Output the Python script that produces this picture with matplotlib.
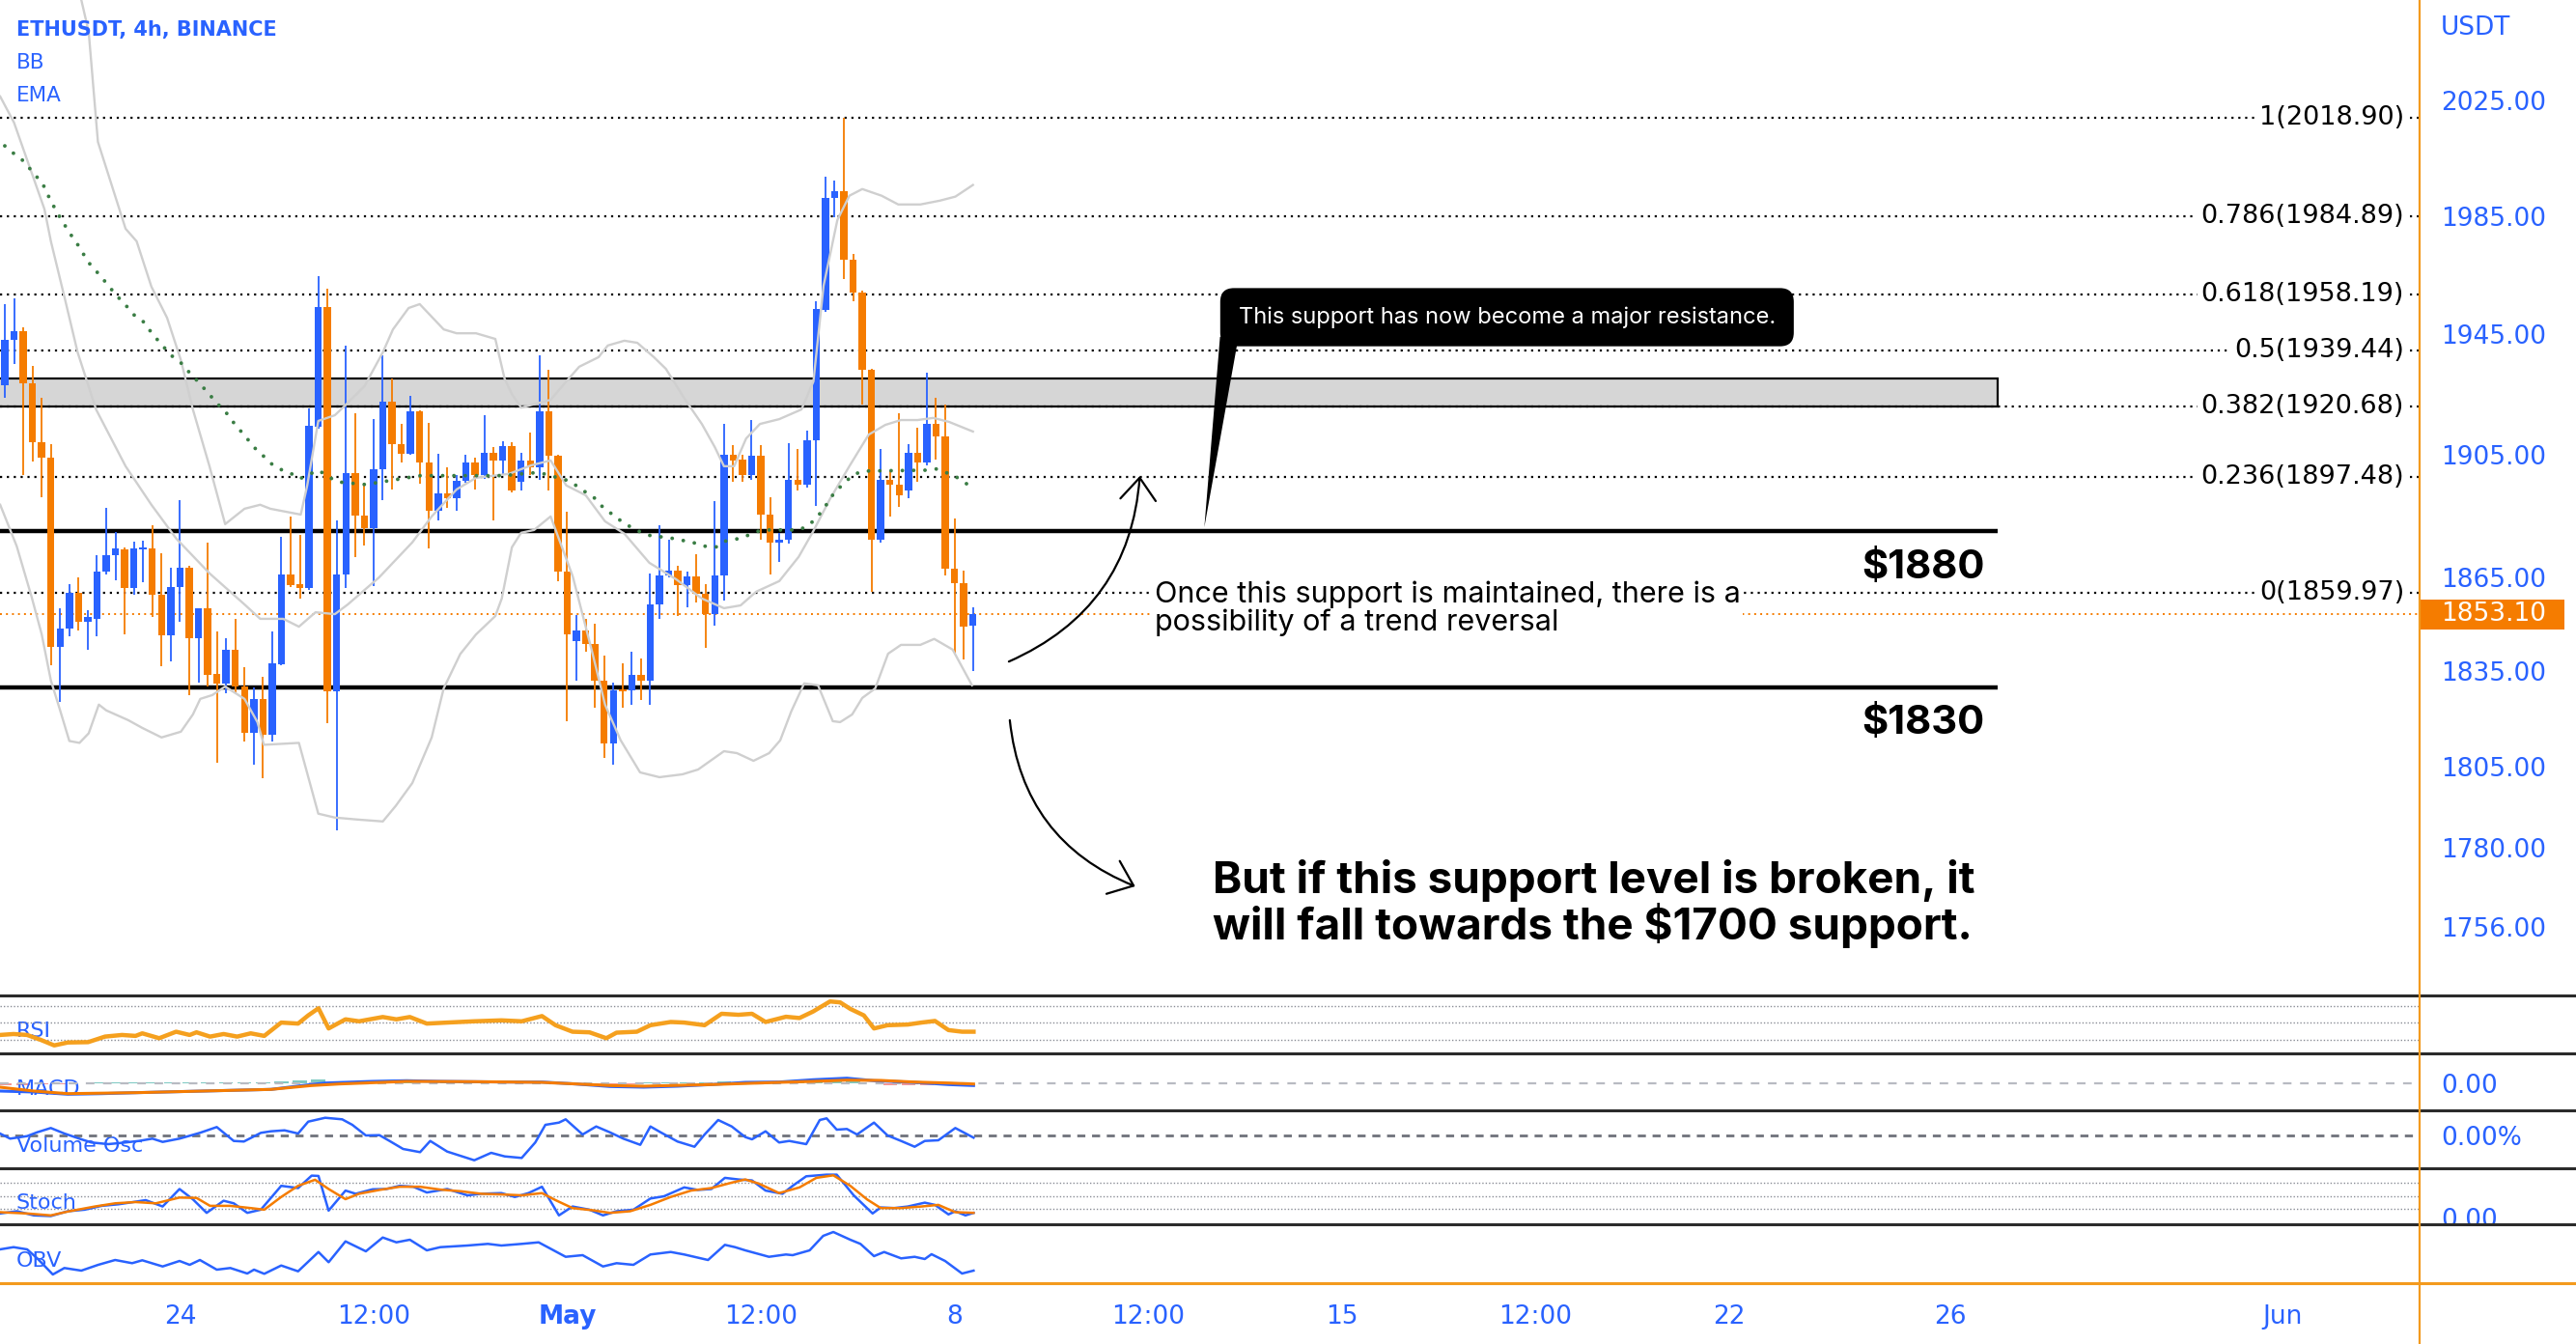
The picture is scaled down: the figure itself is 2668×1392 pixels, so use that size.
import numpy as np
import matplotlib
matplotlib.use("Agg")
import matplotlib.pyplot as plt
import matplotlib.transforms as mtrans
from matplotlib.patches import Rectangle, Polygon, FancyArrowPatch
from matplotlib.lines import Line2D
from matplotlib.ticker import FixedLocator, NullLocator, FixedFormatter

plt.rcParams['font.family'] = ['DejaVu Sans']

# ---------------- data ----------------
opens = [1927.7, 1943.0, 1945.8, 1928.5, 1908.9, 1903.8, 1842.8, 1848.5, 1859.9, 1850.7,
         1851.8, 1866.8, 1872.1, 1874.0, 1861.7, 1874.0, 1874.3, 1859.3, 1846.5, 1862.0,
         1868.1, 1845.5, 1855.0, 1834.3, 1831.0, 1841.9, 1830.3, 1815.7, 1826.2, 1814.9,
         1837.3, 1865.9, 1862.9, 1861.7, 1914.1, 1954.1, 1828.6, 1865.9, 1898.8, 1885.1,
         1880.8, 1900.0, 1922.4, 1908.5, 1905.3, 1919.1, 1902.2, 1886.7, 1892.2, 1890.7,
         1896.2, 1902.4, 1898.2, 1905.5, 1902.8, 1907.7, 1896.1, 1902.9, 1900.7, 1919.1,
         1904.4, 1867.0, 1844.7, 1847.9, 1843.6, 1832.0, 1812.3, 1829.3, 1829.0, 1833.8,
         1832.0, 1856.4, 1865.6, 1867.3, 1862.6, 1865.3, 1859.6, 1853.2, 1865.6, 1904.7,
         1903.3, 1898.3, 1904.4, 1885.4, 1876.2, 1877.0, 1896.7, 1894.9, 1909.7, 1953.1,
         1991.0, 1993.4, 1970.1, 1958.9, 1932.9, 1877.0, 1896.6, 1895.0, 1893.0, 1905.5,
         1902.3, 1914.9, 1911.0, 1867.9, 1863.1, 1849.5]
highs = [1955.0, 1957.1, 1947.3, 1934.3, 1923.6, 1908.5, 1855.0, 1862.9, 1865.0, 1854.6,
         1872.2, 1887.5, 1879.5, 1874.6, 1876.4, 1876.8, 1881.7, 1872.7, 1868.0, 1890.0,
         1868.6, 1855.2, 1876.2, 1847.6, 1845.5, 1851.6, 1836.3, 1829.8, 1833.4, 1847.6,
         1878.0, 1884.6, 1878.8, 1920.2, 1964.6, 1960.1, 1883.4, 1941.2, 1918.5, 1895.8,
         1916.7, 1937.9, 1930.1, 1915.0, 1924.2, 1919.6, 1915.4, 1905.1, 1900.7, 1898.2,
         1904.7, 1903.8, 1917.9, 1907.3, 1909.2, 1909.0, 1905.5, 1912.1, 1937.7, 1932.9,
         1905.0, 1886.2, 1852.8, 1851.7, 1850.2, 1840.1, 1831.5, 1837.6, 1841.1, 1839.0,
         1866.3, 1881.7, 1877.0, 1868.6, 1867.0, 1872.5, 1862.9, 1889.6, 1914.9, 1907.9,
         1904.7, 1916.4, 1907.9, 1891.0, 1879.4, 1908.7, 1906.8, 1912.8, 1955.9, 1998.3,
         1997.0, 2018.9, 1972.1, 1959.5, 1933.4, 1906.8, 1899.4, 1918.5, 1908.4, 1913.9,
         1931.9, 1923.6, 1921.3, 1883.9, 1867.2, 1855.5]
lows = [1923.6, 1934.8, 1898.2, 1902.6, 1891.0, 1837.0, 1825.3, 1846.1, 1848.1, 1841.9,
        1846.1, 1866.0, 1864.2, 1846.7, 1859.5, 1863.4, 1852.2, 1836.6, 1838.2, 1850.7,
        1827.4, 1831.3, 1830.3, 1806.4, 1828.2, 1828.2, 1812.8, 1805.8, 1801.6, 1813.0,
        1836.8, 1862.0, 1858.3, 1861.0, 1913.5, 1818.7, 1785.4, 1861.6, 1871.4, 1875.2,
        1862.2, 1890.1, 1893.5, 1902.2, 1904.7, 1895.4, 1874.3, 1883.4, 1887.4, 1886.7,
        1895.8, 1893.5, 1897.1, 1883.4, 1898.2, 1892.5, 1893.0, 1898.1, 1896.6, 1893.0,
        1863.6, 1819.4, 1832.1, 1841.1, 1823.4, 1807.9, 1805.6, 1823.4, 1824.5, 1825.9,
        1824.5, 1851.7, 1865.0, 1852.5, 1855.3, 1857.0, 1842.6, 1849.5, 1857.6, 1896.1,
        1896.1, 1896.7, 1877.0, 1866.0, 1870.1, 1875.9, 1893.0, 1894.0, 1888.2, 1952.5,
        1984.6, 1963.4, 1955.9, 1921.3, 1860.4, 1876.2, 1884.6, 1887.8, 1890.5, 1896.1,
        1901.5, 1903.3, 1865.6, 1840.6, 1838.7, 1835.2]
closes = [1943.0, 1945.8, 1928.5, 1908.9, 1903.8, 1842.8, 1848.5, 1859.9, 1850.7, 1852.2,
          1866.9, 1872.2, 1874.2, 1861.7, 1874.3, 1874.6, 1859.3, 1846.5, 1862.0, 1868.1,
          1845.5, 1855.0, 1834.0, 1831.0, 1841.9, 1830.3, 1815.7, 1826.2, 1814.9, 1837.6,
          1865.9, 1862.6, 1861.7, 1914.5, 1954.1, 1828.6, 1865.9, 1898.8, 1885.1, 1880.8,
          1900.0, 1922.4, 1908.5, 1905.3, 1919.1, 1902.2, 1886.7, 1892.2, 1890.7, 1896.2,
          1902.4, 1898.2, 1905.5, 1902.8, 1907.8, 1893.3, 1902.9, 1900.7, 1919.1, 1904.4,
          1867.0, 1846.8, 1847.9, 1843.6, 1832.0, 1812.3, 1829.0, 1828.6, 1833.8, 1832.0,
          1856.4, 1865.6, 1867.3, 1862.6, 1865.3, 1859.6, 1853.2, 1865.6, 1904.7, 1903.0,
          1898.3, 1904.4, 1885.4, 1876.2, 1877.0, 1896.7, 1894.9, 1909.7, 1953.4, 1991.0,
          1993.4, 1970.1, 1958.9, 1932.9, 1877.0, 1896.6, 1895.0, 1891.5, 1905.5, 1902.3,
          1914.9, 1911.0, 1867.9, 1863.1, 1849.1, 1853.1]

# Bollinger bands (bar index, price)
bb_up_x = [7.3, 8.3, 9.1, 10.1, 13.1, 14.3, 15.9, 17.6, 19.1, 20.4, 22.2, 23.9, 26.0, 27.7, 28.8,
           32.1, 32.8, 34.0, 35.8, 36.9, 39.0, 41.0, 42.1, 43.8, 45.0, 47.6, 49.0, 51.1, 53.2, 54.2,
           55.0, 56.0, 59.2, 60.9, 62.3, 64.4, 65.4, 67.2, 68.6, 70.4, 71.7, 73.8, 75.6, 77.0, 78.0,
           79.1, 80.4, 81.9, 84.0, 86.4, 87.7, 88.8, 90.3, 91.6, 93.0, 95.1, 96.9, 99.3, 101.4, 103.1, 105.0]
bb_up = [2074.1, 2060.3, 2049.0, 2010.5, 1980.6, 1976.3, 1960.9, 1950.4, 1936.2, 1919.8, 1901.1, 1882.2,
         1887.2, 1888.5, 1887.2, 1885.3, 1894.8, 1916.0, 1917.9, 1921.1, 1927.5, 1938.8, 1946.5, 1953.7,
         1955.0, 1946.5, 1945.2, 1945.2, 1943.3, 1930.1, 1924.9, 1920.4, 1923.0, 1929.1, 1934.0, 1937.2,
         1941.1, 1942.7, 1942.0, 1937.2, 1933.3, 1923.0, 1915.0, 1907.4, 1901.1, 1901.1, 1910.2, 1915.0,
         1916.6, 1919.8, 1929.1, 1961.2, 1983.6, 1991.9, 1994.2, 1991.9, 1988.9, 1988.9, 1990.2, 1991.6, 1995.6]
bb_mid_x = [-0.5, 1.0, 4.3, 5.0, 6.5, 7.9, 9.9, 13.1, 15.9, 18.6, 22.2, 26.0, 27.7, 30.2, 31.9, 33.7,
            35.8, 37.2, 40.6, 44.2, 46.3, 49.0, 51.1, 54.7, 57.1, 59.2, 60.9, 63.0, 65.1, 67.2, 69.9,
            72.8, 75.6, 78.0, 79.8, 81.5, 84.0, 86.1, 87.7, 89.5, 91.6, 93.7, 95.5, 97.2, 99.0, 100.7, 102.4, 105.0]
bb_mid = [2026.3, 2017.2, 1987.3, 1976.3, 1957.0, 1938.8, 1919.8, 1901.1, 1888.5, 1877.5, 1866.3, 1856.3,
          1851.7, 1851.7, 1849.2, 1853.8, 1853.2, 1856.3, 1865.0, 1876.3, 1884.7, 1893.5, 1897.3, 1898.6,
          1901.4, 1903.0, 1894.8, 1891.6, 1883.1, 1879.1, 1869.7, 1864.4, 1858.2, 1855.1, 1856.0, 1860.4,
          1863.8, 1871.6, 1880.0, 1890.4, 1901.1, 1911.5, 1914.7, 1916.3, 1916.3, 1917.0, 1915.7, 1912.5]
bb_lo_x = [-0.5, 1.3, 2.9, 4.0, 5.0, 6.0, 7.0, 8.1, 9.1, 10.2, 11.0, 13.4, 14.9, 17.0, 19.1, 20.4, 21.2,
           22.5, 23.9, 26.0, 27.4, 28.1, 31.9, 34.0, 35.8, 38.2, 41.0, 42.4, 44.2, 46.3, 47.6, 49.4, 51.1,
           53.2, 53.9, 55.0, 56.0, 57.4, 59.2, 61.6, 63.7, 65.1, 66.8, 68.9, 71.0, 73.5, 75.2, 78.0, 79.4,
           81.2, 82.9, 84.1, 85.3, 86.7, 88.2, 89.8, 90.6, 91.9, 93.0, 94.4, 95.8, 97.2, 99.3, 100.8, 102.8, 104.9]
bb_lo = [1888.5, 1875.0, 1858.8, 1846.8, 1832.1, 1822.7, 1813.1, 1812.5, 1815.5, 1824.5, 1822.7, 1819.6,
         1817.2, 1814.2, 1816.0, 1821.4, 1826.3, 1827.5, 1830.2, 1826.3, 1819.0, 1811.9, 1812.5, 1790.5,
         1789.3, 1788.7, 1788.1, 1792.9, 1800.0, 1814.2, 1829.6, 1840.5, 1846.7, 1852.6, 1858.2, 1874.7,
         1879.4, 1880.3, 1884.7, 1865.3, 1841.2, 1824.5, 1813.3, 1803.3, 1801.8, 1802.7, 1804.2, 1809.9,
         1809.3, 1806.9, 1809.3, 1813.3, 1822.4, 1831.2, 1830.6, 1819.3, 1819.0, 1821.4, 1826.6, 1829.6,
         1840.6, 1843.4, 1843.4, 1845.3, 1841.9, 1830.6]

# EMA (dotted green)
ema_x = [0.0, 1.0, 2.1, 3.0, 4.1, 5.0, 6.0, 7.0, 8.1, 9.0, 10.1, 11.1, 12.0, 13.1, 14.0, 15.1, 16.0,
         17.1, 18.0, 19.1, 20.1, 21.0, 22.1, 23.0, 24.1, 25.0, 26.1, 27.0, 28.1, 29.1, 30.1, 31.1, 32.0,
         34.0, 36.0, 39.1, 43.0, 45.0, 54.1, 57.1, 58.1, 61.2, 62.1, 63.0, 64.1, 65.0, 66.1, 67.0, 68.1,
         69.1, 70.1, 71.1, 72.0, 73.1, 74.0, 75.1, 76.0, 77.1, 78.0, 79.1, 80.0, 81.0, 82.1, 86.1, 87.1,
         88.1, 89.1, 90.0, 91.1, 92.0, 93.1, 100.1, 101.0, 103.0, 104.1, 105.0]
ema = [2009.1, 2006.4, 2003.7, 2000.1, 1996.1, 1990.0, 1984.4, 1979.3, 1974.3, 1969.4, 1965.5, 1961.8,
       1958.3, 1954.7, 1951.4, 1948.9, 1945.0, 1941.1, 1937.9, 1935.3, 1931.8, 1928.9, 1925.1, 1921.9,
       1918.4, 1914.7, 1910.9, 1907.4, 1904.3, 1901.4, 1899.8, 1898.6, 1897.0, 1899.8, 1896.0, 1895.1,
       1897.0, 1898.0, 1898.0, 1898.9, 1898.9, 1896.3, 1894.5, 1892.6, 1890.4, 1887.2, 1885.0, 1882.8,
       1880.9, 1879.4, 1878.4, 1878.1, 1877.8, 1877.2, 1876.6, 1875.9, 1875.0, 1874.7, 1876.6, 1877.2,
       1877.8, 1879.1, 1880.3, 1880.3, 1881.6, 1884.4, 1888.5, 1892.6, 1895.7, 1898.3, 1899.5, 1899.8,
       1900.2, 1898.0, 1895.7, 1894.2]

# Fibonacci retracement
fib_ratios = ['1', '0.786', '0.618', '0.5', '0.382', '0.236', '0']
fib_prices = [2018.90, 1984.89, 1958.19, 1939.44, 1920.68, 1897.48, 1859.97]

support_levels = [1880, 1830]
support_labels = ['$1880', '$1830']
zone_low, zone_high = 1920.68, 1930.0
price_ticks = [2025, 1985, 1945, 1905, 1865, 1835, 1805, 1780, 1756]
last_price = 1853.10

date_ticks = [19, 40, 61, 82, 103, 124, 145, 166, 187, 211, 247]
date_labels = ['24', '12:00', 'May', '12:00', '8', '12:00', '15', '12:00', '22', '26', 'Jun']

# indicators (bar index, value)
rsi_x = [-0.52, 0.95, 2.42, 3.89, 5.36, 6.83, 9.03, 10.87, 12.71, 14.18, 14.91, 16.75, 18.58, 20.05, 20.79,
         22.26, 23.73, 25.2, 26.67, 28.14, 29.98, 31.81, 32.91, 34.02, 35.12, 36.95, 38.42, 40.99, 42.47,
         43.93, 45.77, 47.98, 50.92, 53.86, 56.06, 58.26, 59.73, 61.57, 63.41, 65.24, 66.35, 68.55, 70.02,
         72.23, 73.69, 75.9, 77.74, 79.57, 81.04, 82.51, 84.72, 86.19, 87.66, 89.5, 90.6, 91.7, 93.17,
         94.27, 95.74, 97.94, 99.41, 100.88, 102.35, 103.82, 105.07]
rsi = [35.9, 37.0, 35.9, 30.2, 23.7, 27.1, 27.5, 34.0, 35.9, 34.8, 37.8, 32.1, 39.7, 35.9, 39.0, 34.0,
       37.0, 34.0, 37.8, 34.8, 50.4, 49.2, 58.8, 67.1, 43.5, 54.2, 51.9, 56.9, 54.2, 56.9, 49.2, 50.4,
       51.9, 53.0, 51.9, 58.0, 47.3, 39.7, 39.0, 32.1, 38.6, 39.7, 47.3, 51.1, 50.4, 47.3, 60.7, 59.5,
       60.7, 51.1, 57.2, 55.7, 63.3, 75.1, 74.0, 66.4, 58.8, 43.5, 47.3, 48.1, 50.4, 52.3, 41.6, 39.7, 39.7]

macd_x = [-0.52, 3.15, 6.83, 10.5, 14.18, 21.52, 28.87, 32.55, 34.75, 39.89, 43.57, 47.24, 54.59, 58.26,
          61.94, 65.61, 69.29, 72.96, 76.63, 80.31, 83.98, 87.66, 91.33, 94.27, 98.68, 102.35, 105.07]
macd = [-8.3, -9.3, -11.6, -11.0, -10.0, -8.3, -6.6, -2.3, 0.0, 1.7, 2.4, 1.7, 1.0, 1.0, -1.0, -3.6,
        -4.3, -3.3, -1.6, 0.7, 1.0, 3.4, 5.0, 2.4, 0.7, -1.6, -2.6]
signal_x = [-0.52, 3.15, 6.83, 14.18, 21.52, 28.87, 33.28, 36.22, 43.57, 50.92, 58.26, 65.61, 69.29,
            76.63, 83.98, 87.66, 91.33, 95.0, 98.68, 102.35, 105.07]
signal = [-4.3, -8.3, -11.0, -10.0, -8.3, -6.6, -2.6, -1.0, 1.7, 1.4, 0.7, -2.6, -3.3, -1.6, 0.7, 1.7,
          3.0, 2.7, 1.0, 0.0, -1.0]
hist_x = list(range(0, 106, 2))
hist = [-2.5, -2.0, -1.5, -1.0, -0.5, 0.5, 0.8, 1.0, 0.8, 1.0, 0.8, 0.8, 1.0, 0.8, 1.0, 1.5, 3.0, 4.0,
        2.0, 1.0, 0.5, 0.5, 0.3, -0.3, 0.3, 0.5, 0.3, 0.3, 0.3, -0.5, -1.5, -2.0, -2.0, -1.5, -1.0, 0.5,
        1.0, 1.0, 1.0, 1.5, 1.0, 0.5, 1.0, 1.5, 2.0, 2.0, 1.5, -0.5, -2.0, -2.5, -2.0, -2.0, -2.5]

vosc_x = [-0.52, 0.58, 2.42, 3.52, 4.99, 6.46, 8.3, 9.4, 11.24, 13.07, 14.54, 16.01, 17.12, 18.95, 21.16,
          22.99, 24.83, 25.93, 27.77, 28.87, 30.34, 31.81, 32.91, 34.75, 36.59, 37.69, 39.16, 40.63, 41.73,
          43.2, 45.04, 46.14, 47.98, 50.92, 52.75, 54.22, 56.06, 57.53, 58.63, 60.1, 60.83, 62.67, 64.14,
          65.61, 67.08, 68.92, 70.02, 71.12, 72.96, 74.8, 75.9, 77.37, 78.84, 80.31, 81.04, 82.51, 83.98,
          85.08, 86.92, 88.39, 89.13, 90.23, 91.33, 92.43, 94.27, 95.74, 97.21, 98.68, 99.78, 101.25,
          103.09, 105.07]
vosc = [1.7, -3.6, -1.0, 3.0, 7.4, 1.7, -4.3, -7.6, -9.3, -7.6, -6.0, -3.6, -7.0, -3.6, 2.4, 8.4, -6.0,
        -6.6, 2.4, 4.0, 5.0, 1.7, 14.0, 18.0, 16.4, 10.7, -0.3, 0.0, -6.0, -14.3, -17.6, -6.0, -17.0,
        -26.0, -18.3, -22.0, -23.6, -7.6, 10.7, 13.0, 16.4, 0.7, 9.0, 3.0, -3.6, -10.0, 9.0, 3.0, -6.6,
        -12.0, 0.7, 15.7, 9.0, -2.0, -4.3, 4.0, -7.6, -6.0, -9.3, 15.7, 17.4, 5.7, 6.4, 0.7, 13.0, -0.3,
        -6.0, -12.0, -6.0, -5.3, 7.4, -2.6]

stk_x = [-0.52, 1.32, 3.15, 4.99, 6.83, 8.67, 10.5, 12.34, 14.18, 15.28, 17.12, 18.95, 20.42, 21.89,
         23.73, 24.83, 26.3, 27.77, 29.98, 31.81, 33.28, 34.02, 35.12, 36.95, 38.06, 39.89, 41.36, 42.83,
         44.3, 45.77, 47.98, 50.18, 51.65, 53.86, 55.32, 56.79, 58.26, 60.1, 61.57, 63.41, 64.88, 66.35,
         68.18, 70.02, 71.49, 73.69, 75.16, 76.63, 78.1, 79.57, 81.04, 82.51, 84.35, 85.45, 86.92, 89.13,
         90.23, 92.07, 94.12, 95.0, 96.47, 97.94, 99.78, 100.88, 102.35, 103.09, 104.19, 105.07]
stoch_k = [9.9, 15.0, 5.5, 4.0, 15.0, 18.6, 27.4, 31.0, 36.9, 40.5, 25.9, 66.0, 42.0, 11.3, 39.1, 33.2,
           11.3, 18.6, 73.3, 68.2, 96.7, 96.0, 16.4, 62.4, 55.1, 65.3, 66.0, 73.3, 71.2, 58.0, 66.0, 51.5,
           55.1, 56.6, 47.8, 56.6, 71.2, 5.5, 25.9, 18.6, 5.5, 15.0, 18.6, 44.2, 49.3, 69.7, 63.9, 66.0,
           91.6, 87.9, 85.7, 62.4, 55.1, 73.3, 95.2, 98.9, 98.9, 51.5, 9.9, 23.7, 22.3, 25.9, 34.7, 29.6,
           7.7, 15.0, 5.5, 11.3]
std_x = [-0.52, 2.42, 4.99, 6.83, 9.77, 11.97, 14.18, 16.38, 18.95, 20.79, 22.26, 24.46, 26.67, 28.14,
         29.98, 31.81, 33.65, 35.12, 36.95, 38.42, 40.63, 42.83, 45.04, 47.24, 49.45, 51.65, 53.86, 56.06,
         58.26, 59.73, 61.57, 63.77, 65.61, 67.82, 70.02, 72.23, 74.43, 76.63, 78.84, 80.31, 81.78, 83.98,
         86.19, 88.02, 89.86, 91.7, 93.53, 95.0, 97.21, 99.41, 101.25, 103.09, 105.07]
stoch_d = [12.8, 9.9, 5.5, 14.3, 25.9, 33.2, 36.1, 33.2, 46.4, 45.6, 27.4, 27.4, 22.3, 18.6, 47.8, 73.3,
           87.2, 66.0, 42.7, 55.1, 63.9, 71.2, 71.2, 64.6, 60.9, 55.1, 53.6, 51.5, 56.6, 40.5, 22.3, 17.2,
           11.3, 15.0, 29.6, 47.8, 62.4, 68.2, 80.6, 87.9, 78.4, 56.6, 69.7, 91.6, 97.4, 73.3, 42.0, 22.3,
           22.3, 25.9, 29.6, 12.8, 11.3]

obv_x = [-0.52, 0.95, 2.42, 3.52, 5.21, 6.46, 8.3, 10.13, 11.97, 13.81, 14.91, 17.12, 18.95, 20.05, 21.16,
         22.99, 24.46, 26.3, 27.03, 28.14, 29.98, 31.81, 34.02, 35.12, 36.95, 39.16, 40.99, 42.47, 43.93,
         45.77, 47.24, 50.18, 52.39, 53.86, 56.06, 57.9, 60.83, 62.67, 64.88, 66.35, 68.18, 70.02, 72.23,
         73.69, 76.27, 78.1, 79.2, 80.31, 82.88, 84.72, 85.45, 87.29, 88.76, 89.86, 91.7, 92.8, 94.27,
         95.37, 97.21, 98.68, 99.78, 100.51, 101.98, 103.82, 105.07]
obv = [34.3, 36.6, 34.3, 25.0, 8.3, 15.0, 12.3, 18.3, 23.3, 20.0, 23.0, 16.6, 22.3, 18.3, 23.3, 13.3,
       15.0, 9.3, 13.3, 9.0, 17.6, 11.6, 31.6, 21.0, 42.6, 32.3, 46.6, 41.6, 44.3, 33.3, 36.6, 38.3,
       40.0, 38.3, 40.0, 41.6, 26.6, 28.3, 16.6, 20.0, 18.3, 29.0, 31.6, 29.0, 23.3, 39.0, 36.6, 33.3,
       26.6, 29.0, 28.3, 33.3, 48.3, 52.3, 44.3, 40.0, 27.3, 31.6, 25.0, 26.6, 24.3, 29.3, 22.3, 9.3, 12.3]

# ---------------- styling ----------------
W, H = 2668, 1392
BLUE = '#2962ff'
ORANGE = '#f57c00'
AXIS_ORANGE = '#f39a1e'
XLIM = (-0.52, 261.9)
RIGHT = 2506  # pixel where the price scale starts

fig = plt.figure(figsize=(W / 100, H / 100), dpi=100)
fig.patch.set_facecolor('white')


def panel(top, bottom):
    a = fig.add_axes([0, 1 - bottom / H, RIGHT / W, (bottom - top) / H])
    a.set_xlim(*XLIM)
    for s in a.spines.values():
        s.set_visible(False)
    a.set_xticks([])
    a.tick_params(axis='y', which='both', length=0, pad=16, labelsize=19,
                  labelcolor=BLUE, left=False, labelleft=False, right=True, labelright=True)
    a.set_yticks([])
    return a


bounds = [0, 1031.1, 1090.7, 1150.2, 1209.8, 1267.6, 1328.9]
ax = panel(bounds[0], bounds[1])
ax.set_yscale('log')
ax.set_ylim(1735.2, 2060.3)
ax.yaxis.set_major_locator(FixedLocator(price_ticks))
ax.yaxis.set_major_formatter(FixedFormatter([f'{p:.2f}' for p in price_ticks]))
ax.yaxis.set_minor_locator(NullLocator())
ax.tick_params(axis='y', which='both', length=0, pad=16, labelsize=19, labelcolor=BLUE,
               left=False, labelleft=False, right=True, labelright=True)

x = np.arange(len(opens))
o = np.array(opens); c = np.array(closes)
cols = np.where(c >= o, BLUE, ORANGE)

# resistance zone + fib + supports
zone_right = 216.1
ax.add_patch(Rectangle((XLIM[0] - 1, zone_low), zone_right - XLIM[0] + 1, zone_high - zone_low,
                       fc='#d6d6d6', ec='black', lw=1.6, zorder=1))
ytr = mtrans.blended_transform_factory(ax.transAxes, ax.transData)
for r, p in zip(fib_ratios, fib_prices):
    ax.axhline(p, color='black', lw=1.6, ls=(0, (1, 2.2)), zorder=1.5)
    ax.text(2490 / RIGHT, p, f'{r}({p:.2f})', transform=ytr, ha='right', va='center',
            fontsize=19.5, color='black', zorder=6,
            bbox=dict(fc='white', ec='none', pad=3))
ax.axhline(last_price, color=ORANGE, lw=1.4, ls=(0, (1, 2.2)), zorder=1.5)
ax.hlines(support_levels, XLIM[0], zone_right, color='black', lw=3.2, zorder=2)

# candles
ax.vlines(x, lows, highs, colors=cols, lw=1.3, zorder=3)
body_h = np.maximum(np.abs(c - o), 0.6)
ax.bar(x, body_h, bottom=np.minimum(o, c), width=0.78, color=cols, zorder=3.1)

# BB + EMA
for bx, by in [(bb_up_x, bb_up), (bb_mid_x, bb_mid), (bb_lo_x, bb_lo)]:
    ax.plot(bx, by, color='#cfcfcf', lw=1.7, zorder=4)
ax.plot(ema_x, ema, color='#3a7d44', lw=2.8, ls=(0, (0.01, 3.0)),
        dash_capstyle='round', zorder=4.2)

# right price scale extras
fig.text(2528 / W, 1 - 29 / H, 'USDT', color=BLUE, fontsize=19, va='center', ha='left')
tag_lo, tag_hi = last_price / 1.0026, last_price * 1.0026
ax.add_patch(Rectangle((1.0, tag_lo), 150 / RIGHT, tag_hi - tag_lo, transform=ytr,
                       fc=ORANGE, ec='none', clip_on=False, zorder=10))
ax.text(2528 / RIGHT, last_price, f'{last_price:.2f}', transform=ytr, ha='left', va='center',
        color='white', fontsize=19, zorder=11, clip_on=False)

# annotations
ax.text(133.8, 1950.6, 'This support has now become a major resistance.', family='Inter',
        color='white', fontsize=17, ha='left', va='center', zorder=8,
        bbox=dict(boxstyle='round,pad=0.8,rounding_size=0.6', fc='black', ec='none'))
ax.add_patch(Polygon([(131.8, 1944), (133.8, 1944), (130.1, 1881.2)], closed=True,
                     fc='black', ec='none', zorder=8))
ax.text(124.7, 1855.0, 'Once this support is maintained, there is a\npossibility of a trend reversal',
        family='Inter', fontsize=22, ha='left', va='center', linespacing=1.05, zorder=7,
        bbox=dict(fc='white', ec='none', pad=2))
for lvl, lab, ty in zip(support_levels, support_labels, [1868.2, 1818.8]):
    ax.text(214.7, ty, lab, family='Inter', fontweight='bold', fontsize=30, ha='right', va='center',
            zorder=7)
ax.text(131.0, 1763.0, 'But if this support level is broken, it\nwill fall towards the $1700 support.',
        family='Inter', fontweight='bold', fontsize=33, ha='left', va='center', linespacing=1.02,
        zorder=7)
for (xa, ya), (xb, yb) in [((108.9, 1838.1), (123.1, 1897.9)), ((109.0, 1819.6), (122.6, 1768.2))]:
    ax.add_patch(FancyArrowPatch((xa, ya), (xb, yb), connectionstyle='arc3,rad=0.3',
                                 arrowstyle='->,head_length=0.75,head_width=0.6', mutation_scale=22,
                                 lw=1.6, color='black', shrinkA=0, shrinkB=0, zorder=7))

fig.text(17 / W, 1 - 30.6 / H, 'ETHUSDT, 4h, BINANCE', color=BLUE, fontsize=15, fontweight='bold',
         va='center')
fig.text(17 / W, 1 - 64.7 / H, 'BB', color=BLUE, fontsize=15.5, va='center')
fig.text(17 / W, 1 - 98.7 / H, 'EMA', color=BLUE, fontsize=15.5, va='center')

# ---------------- indicator panels ----------------
names = ['RSI', 'MACD', 'Volume Osc', 'Stoch', 'OBV']
p_rsi = panel(bounds[1], bounds[2]); p_rsi.set_ylim(14.7, 82)
for lv in [70, 50, 30]:
    p_rsi.axhline(lv, color='#8a8d96', lw=1.0, ls=(0, (1, 1.5)))
p_rsi.plot(rsi_x, rsi, color='#f5a01e', lw=3.2)

p_macd = panel(bounds[2], bounds[3]); p_macd.set_ylim(-28.5, 31)
p_macd.axhline(0, color='#b8bbc2', lw=1.6, ls=(0, (4, 4)))
p_macd.bar(hist_x, hist, width=1.5, color=['#26a69a' if v > 0 else '#ef5350' for v in hist], alpha=0.6)
p_macd.plot(macd_x, macd, color=BLUE, lw=2.2)
p_macd.plot(signal_x, signal, color=ORANGE, lw=2.2)
p_macd.set_yticks([0]); p_macd.set_yticklabels(['0.00'])

p_vo = panel(bounds[3], bounds[4]); p_vo.set_ylim(-34.1, 25.5)
p_vo.axhline(0, color='#6f727b', lw=2.0, ls=(0, (3, 2.5)))
p_vo.plot(vosc_x, vosc, color=BLUE, lw=1.8)
p_vo.set_yticks([0]); p_vo.set_yticklabels(['0.00%'])

p_st = panel(bounds[4], bounds[5]); p_st.set_ylim(-14, 114)
for lv in [80, 50, 20]:
    p_st.axhline(lv, color='#8a8d96', lw=1.0, ls=(0, (1, 1.5)))
p_st.plot(stk_x, stoch_k, color=BLUE, lw=1.8)
p_st.plot(std_x, stoch_d, color=ORANGE, lw=1.8)
p_st.set_yticks([0]); p_st.set_yticklabels(['0.00'])

p_obv = panel(bounds[5], bounds[6]); p_obv.set_ylim(-0.6, 60.7)
p_obv.plot(obv_x, obv, color=BLUE, lw=1.8)
p_obv.set_xticks(date_ticks)
p_obv.set_xticklabels(date_labels)
p_obv.tick_params(axis='x', length=0, pad=16, labelsize=19, labelcolor=BLUE)
for t in p_obv.get_xticklabels():
    if t.get_text() == 'May':
        t.set_fontweight('bold')

for a, name in zip([p_rsi, p_macd, p_vo, p_st, p_obv], names):
    a.text(17 / RIGHT, 0.38, name, transform=a.transAxes, color=BLUE, fontsize=16,
           va='center', ha='left', zorder=1)

# cover the clipped stoch label under the OBV pane on the price scale
fig.add_artist(Rectangle((RIGHT / W + 0.001, 1 - bounds[6] / H), 1, (bounds[6] - bounds[5] - 1.5) / H,
                         transform=fig.transFigure, fc='white', ec='none', zorder=2))
for yb in bounds[1:6]:
    fig.add_artist(Line2D([0, 1], [1 - yb / H] * 2, transform=fig.transFigure,
                          color='#2b2b2b', lw=2.2, zorder=5))
fig.add_artist(Line2D([0, 1], [1 - bounds[6] / H] * 2, transform=fig.transFigure,
                      color=AXIS_ORANGE, lw=2.2, zorder=5))
fig.add_artist(Line2D([RIGHT / W] * 2, [0, 1], transform=fig.transFigure,
                      color=AXIS_ORANGE, lw=1.6, zorder=5))

fig.savefig('out.png', dpi=100, facecolor='white')
